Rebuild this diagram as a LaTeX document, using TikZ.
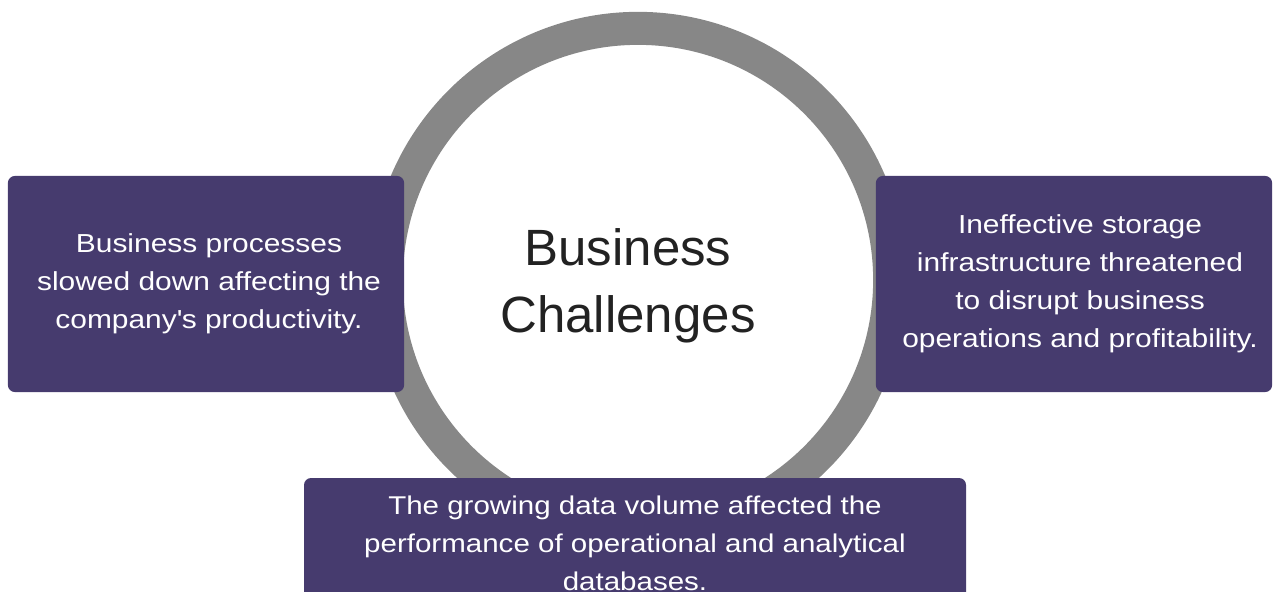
\documentclass[tikz,border=0pt]{standalone}
\usepackage{fontspec}
\setmainfont{Liberation Sans}
\newfontfamily\widefont[FakeStretch=1.15]{Liberation Sans}
\definecolor{boxpurple}{HTML}{463B6E}
\definecolor{ringgray}{HTML}{878787}
\definecolor{titlegray}{HTML}{222222}
\begin{document}
\begin{tikzpicture}[x=0.01cm,y=-0.01cm,
  infobox/.style={fill=boxpurple, draw=none, rounded corners=0.07cm, inner sep=0pt},
  boxtext/.style={text=white, align=center, font=\widefont\fontsize{7.4}{10.8}\selectfont},
  ring/.style={draw=ringgray, line width=0.33cm}]
\useasboundingbox (0,0) rectangle (1276,591);
\clip (0,0) rectangle (1276,591);
% ring and inner circle
\coordinate (c) at (638,280);
\draw[ring, fill=white] (c) circle[radius=2.515cm];
\node[font=\fontsize{14.5}{19}\selectfont, text=titlegray, align=center] (title) at (628,286) {Business\\Challenges};
% boxes
\node[infobox, minimum width=3.96cm, minimum height=2.16cm] (left) at (206,284) {};
\node[boxtext] (lefttext) at (209,284) {Business processes\\slowed down affecting the\\company\textquotesingle s productivity.};
\node[infobox, minimum width=3.96cm, minimum height=2.16cm] (right) at (1074,284) {};
\node[boxtext] (righttext) at (1080,284) {Ineffective storage\\infrastructure threatened\\to disrupt business\\operations and profitability.};
\path[fill=boxpurple, rounded corners=0.07cm] (304,478) rectangle (966,640);
\node[boxtext, anchor=north, font=\widefont\fontsize{7.3}{10.9}\selectfont] (bottomtext) at (635,483) {The growing data volume affected the\\performance of operational and analytical\\databases.};
\end{tikzpicture}
\end{document}
